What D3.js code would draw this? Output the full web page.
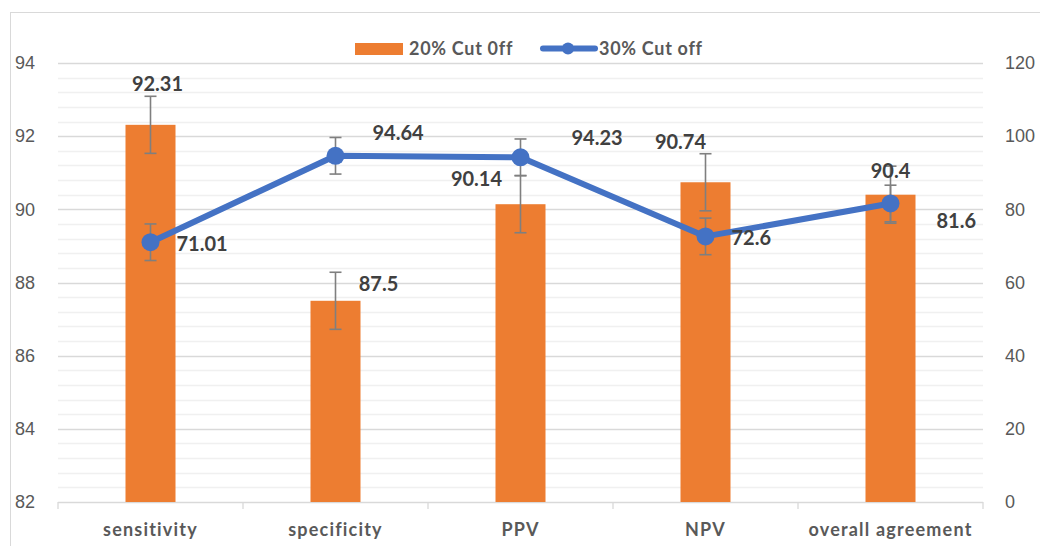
<!DOCTYPE html>
<html>
<head>
<meta charset="UTF-8">
<title>Cut off comparison</title>
<style>
  body { margin: 0; background: #fff; }
  svg { display: block; font-family: Lato, "Open Sans", sans-serif; }
  .tick-lbl { fill: #595959; font-size: 18px; }
  .cat-lbl { fill: #595959; font-size: 18px; font-weight: bold; letter-spacing: 1.2px; }
  .val-lbl { fill: #404040; font-size: 20px; font-weight: bold; }
  .legend-lbl { fill: #595959; font-size: 18px; font-weight: bold; letter-spacing: 0.7px; }
</style>
</head>
<body>
<div id="chart"></div>
<script src="https://d3js.org/d3.v7.min.js"></script>
<script>
// data
const categories = ["sensitivity", "specificity", "PPV", "NPV", "overall agreement"];
const cut20 = [92.31, 87.5, 90.14, 90.74, 90.4];
const cut20Err = [0.78, 0.78, 0.78, 0.78, 0.78];
const cut30 = [71.01, 94.64, 94.23, 72.6, 81.6];
const cut30Err = [5, 5, 5, 5, 5];
const leftTicks = [82, 84, 86, 88, 90, 92, 94];
const rightTicks = [0, 20, 40, 60, 80, 100, 120];
const seriesNames = ["20% Cut 0ff", "30% Cut off"];

const width = 1040, height = 546;
const m = { left: 58, right: 57, top: 63, bottom: 44 };

// label nudges (pixels) - the original labels were moved by hand
const barLabelNudge = [[7, -34], [43, -10], [-44, -18], [-25, -33], [0, -17]];
const lineLabelNudge = [[26, 9], [37, -16], [51, -12], [26, 9], [46, 25]];

const svg = d3.select("#chart").append("svg")
    .attr("width", width)
    .attr("height", height);

// outer chart border
svg.append("rect")
    .attr("x", 10.5).attr("y", 12.5)
    .attr("width", width).attr("height", height)
    .attr("fill", "none").attr("stroke", "#d9d9d9");

const x = d3.scaleBand()
    .domain(categories)
    .range([m.left, width - m.right])
    .paddingInner(0).paddingOuter(0);

const yL = d3.scaleLinear().domain([82, 94]).range([height - m.bottom, m.top]);
const yR = d3.scaleLinear().domain([0, 120]).range([height - m.bottom, m.top]);

// minor gridlines
const minor = d3.range(82, 94.001, 0.4).filter(v => Math.abs((v - 82) % 2) > 0.01 && Math.abs((v - 82) % 2 - 2) > 0.01);
svg.append("g")
    .selectAll("line").data(minor).join("line")
    .attr("x1", m.left).attr("x2", width - m.right)
    .attr("y1", d => Math.round(yL(d)) + 0.5).attr("y2", d => Math.round(yL(d)) + 0.5)
    .attr("stroke", "#f0f0f0").attr("stroke-width", 1.4);

// major gridlines
svg.append("g")
    .selectAll("line").data(leftTicks.slice(1)).join("line")
    .attr("x1", m.left).attr("x2", width - m.right)
    .attr("y1", d => Math.round(yL(d)) + 0.5).attr("y2", d => Math.round(yL(d)) + 0.5)
    .attr("stroke", "#d9d9d9").attr("stroke-width", 1.3);

// left axis
const leftAxis = svg.append("g")
    .attr("transform", `translate(${m.left},0)`)
    .call(d3.axisLeft(yL).tickValues(leftTicks).tickSize(0).tickPadding(23));
leftAxis.select(".domain").remove();
leftAxis.selectAll("text").attr("class", "tick-lbl").attr("fill", null).attr("font-size", null).attr("font-family", null);

// right axis
const rightAxis = svg.append("g")
    .attr("transform", `translate(${width - m.right},0)`)
    .call(d3.axisRight(yR).tickValues(rightTicks).tickSize(0).tickPadding(22));
rightAxis.select(".domain").remove();
rightAxis.selectAll("text").attr("class", "tick-lbl").attr("fill", null).attr("font-size", null).attr("font-family", null);

// bottom axis
const base = yL(82);
svg.append("line")
    .attr("x1", m.left).attr("x2", width - m.right)
    .attr("y1", base + 0.5).attr("y2", base + 0.5)
    .attr("stroke", "#d9d9d9").attr("stroke-width", 1.3);
const bounds = categories.map(c => x(c)).concat([width - m.right]);
svg.append("g").selectAll("line").data(bounds).join("line")
    .attr("x1", d => d).attr("x2", d => d)
    .attr("y1", base).attr("y2", base + 7)
    .attr("stroke", "#d9d9d9").attr("stroke-width", 1.3);
svg.append("g").selectAll("text").data(categories).join("text")
    .attr("class", "cat-lbl")
    .attr("x", d => x(d) + x.bandwidth() / 2)
    .attr("y", 536)
    .attr("text-anchor", "middle")
    .text(d => d);

// bars
const barW = 50;
const cx = i => x(categories[i]) + x.bandwidth() / 2;
svg.append("g").selectAll("rect").data(cut20).join("rect")
    .attr("x", (d, i) => cx(i) - barW / 2)
    .attr("y", d => yL(d))
    .attr("width", barW)
    .attr("height", d => base - yL(d))
    .attr("fill", "#ed7d31");

// error bars helper
function errorBars(vals, errs, scale, cap) {
    const g = svg.append("g").attr("stroke", "#7f7f7f").attr("stroke-width", 1.6);
    vals.forEach((v, i) => {
        const x0 = cx(i), top = scale(v + errs[i]), bot = scale(v - errs[i]);
        g.append("line").attr("x1", x0).attr("x2", x0).attr("y1", top).attr("y2", bot);
        g.append("line").attr("x1", x0 - cap).attr("x2", x0 + cap).attr("y1", top).attr("y2", top);
        g.append("line").attr("x1", x0 - cap).attr("x2", x0 + cap).attr("y1", bot).attr("y2", bot);
    });
}
errorBars(cut20, cut20Err, yL, 6);

// line series
const line = d3.line().x((d, i) => cx(i)).y(d => yR(d));
svg.append("path")
    .datum(cut30)
    .attr("d", line)
    .attr("fill", "none")
    .attr("stroke", "#4472c4")
    .attr("stroke-width", 6)
    .attr("stroke-linejoin", "round");
errorBars(cut30, cut30Err, yR, 6);
svg.append("g").selectAll("circle").data(cut30).join("circle")
    .attr("cx", (d, i) => cx(i))
    .attr("cy", d => yR(d))
    .attr("r", 9)
    .attr("fill", "#4472c4");

// value labels
svg.append("g").selectAll("text").data(cut20).join("text")
    .attr("class", "val-lbl")
    .attr("x", (d, i) => cx(i) + barLabelNudge[i][0])
    .attr("y", (d, i) => yL(d) + barLabelNudge[i][1])
    .attr("text-anchor", "middle")
    .text(d => d);
svg.append("g").selectAll("text").data(cut30).join("text")
    .attr("class", "val-lbl")
    .attr("x", (d, i) => cx(i) + lineLabelNudge[i][0])
    .attr("y", (d, i) => yR(d) + lineLabelNudge[i][1])
    .text(d => d);

// legend
const lg = svg.append("g");
lg.append("rect").attr("x", 355).attr("y", 43).attr("width", 48).attr("height", 12).attr("fill", "#ed7d31");
lg.append("text").attr("class", "legend-lbl").attr("x", 409).attr("y", 55).text(seriesNames[0]);
lg.append("line").attr("x1", 543).attr("x2", 595).attr("y1", 48.5).attr("y2", 48.5)
    .attr("stroke", "#4472c4").attr("stroke-width", 6).attr("stroke-linecap", "round");
lg.append("circle").attr("cx", 568).attr("cy", 48.5).attr("r", 6).attr("fill", "#4472c4");
lg.append("text").attr("class", "legend-lbl").attr("x", 599).attr("y", 55).text(seriesNames[1]);
</script>
</body>
</html>
